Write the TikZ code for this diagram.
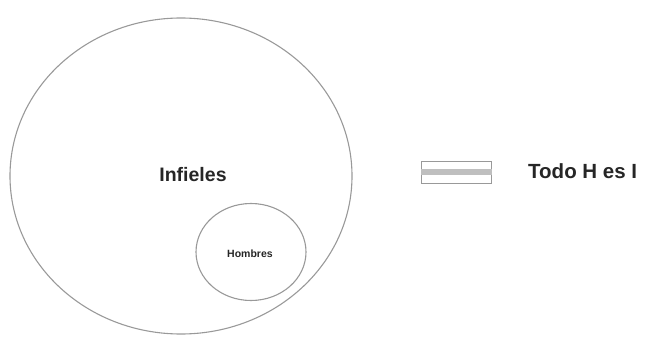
\documentclass[tikz,border=0pt]{standalone}
\usepackage{fontspec}
\setmainfont{Liberation Sans}
\usepackage{tikz}
\usetikzlibrary{shapes.geometric,calc}

\begin{document}
\begin{tikzpicture}[x=1pt,y=-1pt,
  set/.style={draw=gray!80, line width=1.1pt},
  lbl/.style={font=\bfseries, text=black!85, inner sep=0pt}]
\useasboundingbox (0,0) rectangle (645,337);
\node[set, ellipse, minimum width=342pt, minimum height=316pt, inner sep=0pt] (inf) at (181,176) {};
\node[set, ellipse, minimum width=110pt, minimum height=97pt, inner sep=0pt] (hom) at (251,252) {};
\node[lbl, font=\bfseries\fontsize{19.5}{19.5}\selectfont] (tinf) at (193,175) {Infieles};
\node[lbl, font=\bfseries\fontsize{10.5}{10.5}\selectfont] (thom) at (250,254) {Hombres};
% equivalence symbol
\node[draw=gray!80, line width=1pt, minimum width=70pt, minimum height=22pt, inner sep=0pt] (eq) at (456,172) {};
\fill[gray!50] ($(eq.west)+(0,-3)$) rectangle ($(eq.east)+(0,3)$);
\node[lbl, anchor=west, font=\bfseries\fontsize{20.5}{20.5}\selectfont] (todo) at (528,171) {Todo H es I};
\end{tikzpicture}
\end{document}
